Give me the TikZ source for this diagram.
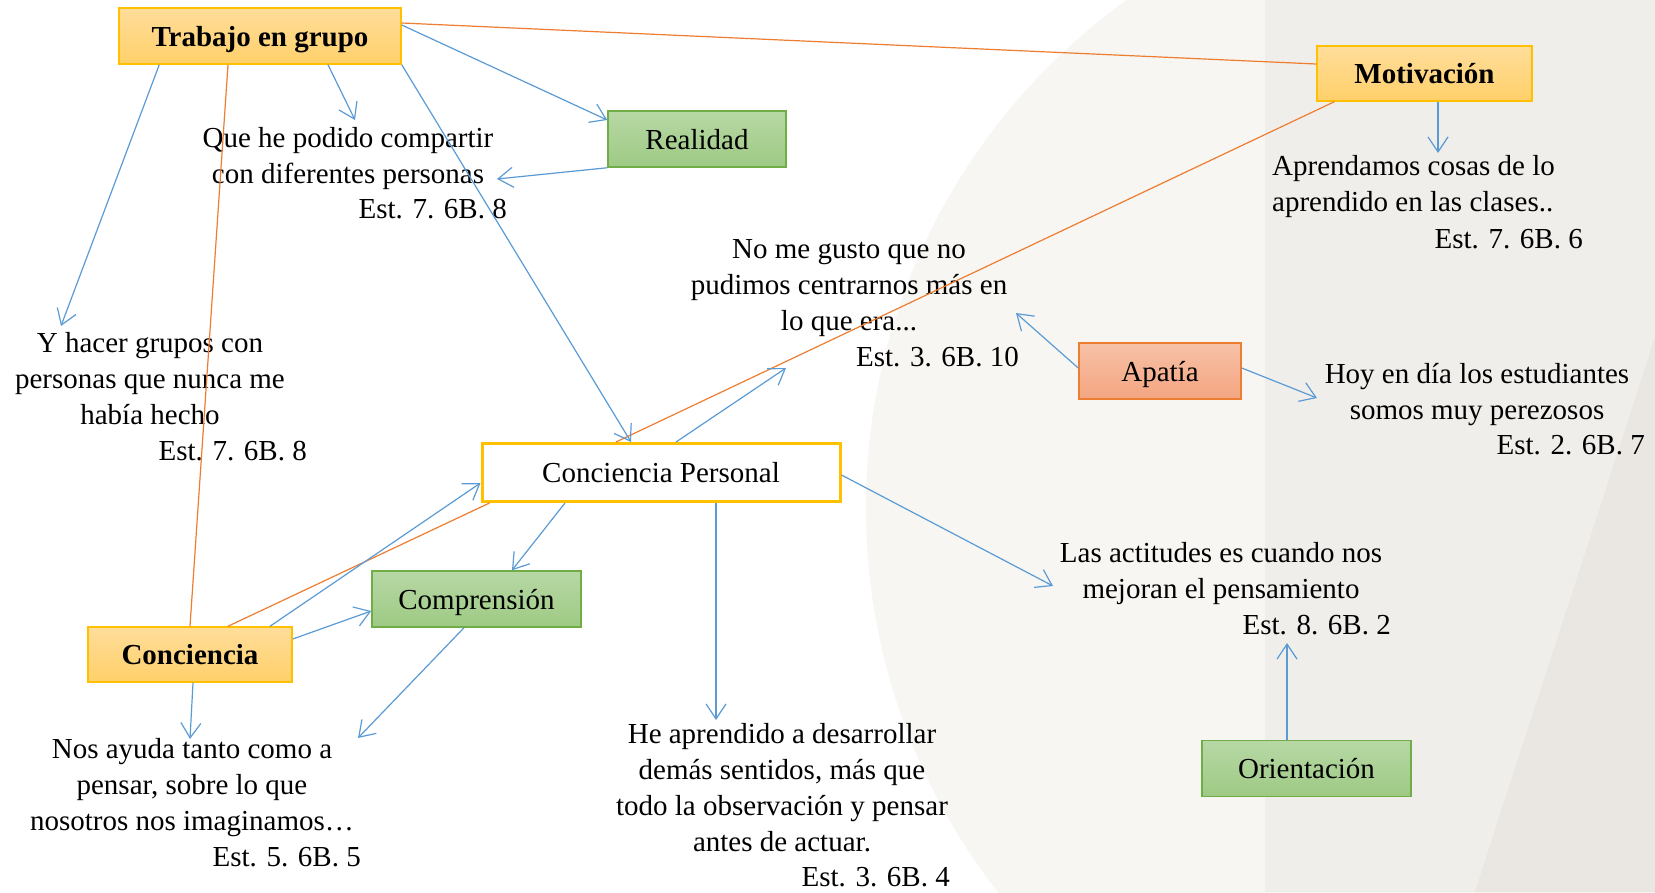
\documentclass[tikz,border=0pt]{standalone}
\usepackage{fontspec}
\setmainfont{Liberation Serif}
\usetikzlibrary{arrows.meta}

\definecolor{lineblue}{HTML}{5B9BD5}
\definecolor{lineorange}{HTML}{ED7D31}
\definecolor{boxyellow}{HTML}{FFC000}
\definecolor{boxgreen}{HTML}{70AD47}
\definecolor{yellowtop}{HTML}{FFDD9A}
\definecolor{yellowbottom}{HTML}{FFD06A}
\definecolor{greentop}{HTML}{B7D8A5}
\definecolor{greenbottom}{HTML}{9ECA84}
\definecolor{redtop}{HTML}{F7C1A7}
\definecolor{redbottom}{HTML}{F4A581}
\definecolor{bglight}{HTML}{F7F6F3}
\definecolor{bgband}{HTML}{F0EEEA}
\definecolor{bgdark}{HTML}{EAE7E3}

\begin{document}
\begin{tikzpicture}[x=1pt, y=-1pt, font=\fontsize{29}{36}\selectfont]

\tikzstyle{yellowbox}=[rectangle, draw=boxyellow, line width=1.5pt, top color=yellowtop, bottom color=yellowbottom, inner sep=0pt, text height=22pt, text depth=2pt, font=\fontsize{29}{36}\selectfont\bfseries]
\tikzstyle{greenbox}=[rectangle, draw=boxgreen, line width=1.5pt, top color=greentop, bottom color=greenbottom, inner sep=0pt, text height=22pt, text depth=2pt]
\tikzstyle{redbox}=[rectangle, draw=lineorange, line width=1.5pt, top color=redtop, bottom color=redbottom, inner sep=0pt, text height=22pt, text depth=2pt]
\tikzstyle{whitebox}=[rectangle, draw=boxyellow, line width=3pt, fill=white, inner sep=0pt, text height=22pt, text depth=2pt]
\tikzstyle{saying}=[align=center, inner sep=0pt]
\tikzstyle{est}=[anchor=east, inner sep=0pt]
\tikzstyle{arrow}=[-{Straight Barb[length=15pt,width=20pt]}, lineblue, line width=1.2pt]
\tikzstyle{orangeline}=[lineorange, line width=1.2pt]

% background
\fill[white] (0,0) rectangle (1655,892);
\begin{scope}
\clip (0,0) rectangle (1655,892);
\fill[bglight] (1491,508) circle (625pt);
\fill[bgband] (1265,0) rectangle (1655,892);
\fill[bgdark] (1475,892) .. controls (1530,720) and (1600,510) .. (1655,336) -- (1655,892) -- cycle;
\end{scope}
\useasboundingbox (0,0) rectangle (1655,892);

% boxes
\node (T) [yellowbox, minimum width=282pt, minimum height=56pt] at (260,36) {Trabajo en grupo};
\node (R) [greenbox, minimum width=178pt, minimum height=56pt] at (697,139) {Realidad};
\node (M) [yellowbox, minimum width=215pt, minimum height=55pt] at (1424.5,73.5) {Motivación};
\node (A) [redbox, minimum width=162pt, minimum height=56pt] at (1160,371) {Apatía};
\node (CP) [whitebox, minimum width=358pt, minimum height=58pt] at (661,472.5) {Conciencia Personal};
\node (CO) [greenbox, minimum width=209pt, minimum height=56pt] at (476.5,599) {Comprensión};
\node (C) [yellowbox, minimum width=204pt, minimum height=55pt] at (190,654.5) {Conciencia};
\node (O) [greenbox, minimum width=209pt, minimum height=56pt] at (1306.5,768.5) {Orientación};

% quotes
\node (Q) [saying] at (348,158.5) {Que he podido compartir\\con diferentes personas};
\node (Q2) [est] at (507,209) {Est. 7. 6B. 8};
\node (Y) [saying] at (150,379) {Y hacer grupos con\\personas que nunca me\\había hecho};
\node (Y2) [est] at (307,451) {Est. 7. 6B. 8};
\node (N) [saying] at (849,288) {No me gusto que no\\pudimos centrarnos más en\\lo que era...};
\node (N2) [est] at (1019,357) {Est. 3. 6B. 10};
\node (Ap) [saying, align=left, anchor=west] at (1272,186.5) {Aprendamos cosas de lo\\aprendido en las clases..};
\node (Ap2) [est] at (1583,239) {Est. 7. 6B. 6};
\node (H) [saying] at (1477,395) {Hoy en día los estudiantes\\somos muy perezosos};
\node (H2) [est] at (1645,445) {Est. 2. 6B. 7};
\node (L) [saying] at (1221,574) {Las actitudes es cuando nos\\mejoran el pensamiento};
\node (L2) [est] at (1391,625) {Est. 8. 6B. 2};
\node (He) [saying] at (782,787.5) {He aprendido a desarrollar\\demás sentidos, más que\\todo la observación y pensar\\antes de actuar.};
\node (He2) [est] at (950,877) {Est. 3. 6B. 4};
\node (Na) [saying] at (192,788) {Nos ayuda tanto como a\\pensar, sobre lo que\\nosotros nos imaginamos…};
\node (Na2) [est] at (361,857) {Est. 5. 6B. 5};

% arrow ends at the quotes
\coordinate (toQ) at (355,120);
\coordinate (toQb) at (497,179);
\coordinate (toY) at (61,326);
\coordinate (toN) at (1016,313);
\coordinate (toNb) at (786,368);
\coordinate (toAp) at (1438,153);
\coordinate (toH) at (1317,398);
\coordinate (toL) at (1053,586);
\coordinate (toLb) at (1287,643);
\coordinate (toHe) at (716,720);
\coordinate (toNa) at (190,739);
\coordinate (toNab) at (358,738);

% orange links
\draw [orangeline] ([yshift=13pt]T.east) -- ([yshift=9.5pt]M.west);
\draw [orangeline] ([xshift=-32pt]T.south) -- (C.north);
\draw [orangeline] ([xshift=18pt]M.south west) -- ([xshift=-45pt]CP.north);
\draw [orangeline] ([xshift=38pt]C.north) -- ([xshift=9pt]CP.south west);

% blue arrows
\draw [arrow] ([xshift=68pt]T.south) -- (toQ);
\draw [arrow] ([yshift=11pt]T.east) -- ([yshift=19pt]R.west);
\draw [arrow] ([xshift=41pt]T.south west) -- (toY);
\draw [arrow] (T.south east) -- ([xshift=-30pt]CP.north);
\draw [arrow] (R.south west) -- (toQb);
\draw [arrow] ([xshift=13.5pt]M.south) -- (toAp);
\draw [arrow] ([yshift=3pt]A.west) -- (toN);
\draw [arrow] ([yshift=3pt]A.east) -- (toH);
\draw [arrow] ([xshift=15pt]CP.north) -- (toNb);
\draw [arrow] ([xshift=-96pt]CP.south) -- ([xshift=35.5pt]CO.north);
\draw [arrow] ([xshift=55pt]CP.south) -- (toHe);
\draw [arrow] ([yshift=-2.5pt]CP.east) -- (toL);
\draw [arrow] ([xshift=80pt]C.north) -- ([yshift=-10.5pt]CP.west);
\draw [arrow] ([yshift=15.5pt]C.east) -- ([yshift=-12pt]CO.west);
\draw [arrow] ([xshift=3pt]C.south) -- (toNa);
\draw [arrow] ([xshift=-12.5pt]CO.south) -- (toNab);
\draw [arrow] ([xshift=-19.5pt]O.north) -- (toLb);

\end{tikzpicture}
\end{document}
